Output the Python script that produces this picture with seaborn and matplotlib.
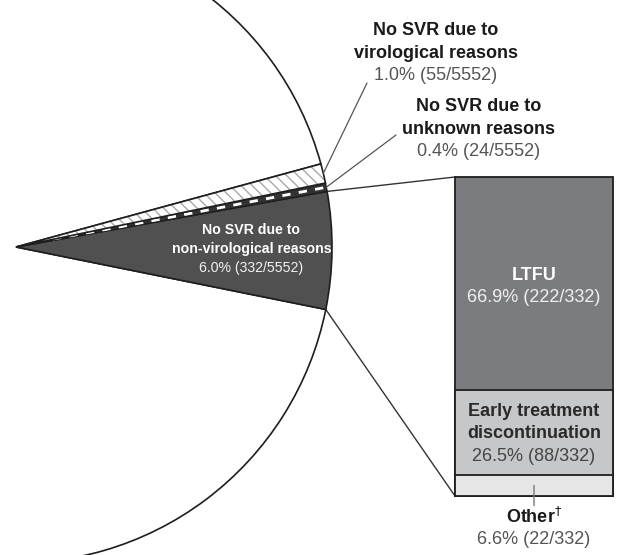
import numpy as np
import matplotlib
matplotlib.use("Agg")
import matplotlib.pyplot as plt
import seaborn as sns
from matplotlib.patches import Wedge, ConnectionPatch

sns.set_theme(style="white")
plt.rcParams["font.family"] = ["Liberation Sans", "DejaVu Sans"]

# pie: all patients (n=5552), order counter-clockwise from the bottom of the dark slice
pie_labels = ["No SVR due to\nnon-virological reasons", "No SVR due to\nunknown reasons",
              "No SVR due to\nvirological reasons", "SVR"]
pie_counts = [332, 24, 55, 5141]

# bar: breakdown of the non-virological slice (n=332), top to bottom
bar_labels = ["LTFU", "Early treatment\ndiscontinuation", "Other$^{\\dagger}$"]
bar_counts = [222, 88, 22]
bar_colors = ["#7b7c80", "#c6c7c9", "#e6e6e6"]

pie_total = sum(pie_counts)
bar_total = sum(bar_counts)
pie_pct = ["%.1f%% (%d/%d)" % (100 * c / pie_total, c, pie_total) for c in pie_counts]
bar_pct = ["%.1f%% (%d/%d)" % (100 * c / bar_total, c, bar_total) for c in bar_counts]

EDGE = "#1e1e1e"


def stacked_text(ax, xy, title, pct, tcol, pcol, center_off=0.0, size=13, sp=16.2):
    lines = title.split("\n") + [pct]
    n = len(lines)
    for i, s in enumerate(lines):
        off = center_off - (i - (n - 1) / 2) * sp
        bold = i < n - 1
        ax.annotate(s, xy=xy, xycoords="data", xytext=(0, off), textcoords="offset points",
                    ha="center", va="center", fontsize=size,
                    fontweight="bold" if bold else "normal",
                    color=tcol if bold else pcol, annotation_clip=False, zorder=6)


fig = plt.figure(figsize=(6.19, 5.55), dpi=100)
ax = fig.add_axes([0, 0, 1, 1])
ax.set_xlim(0, 619)
ax.set_ylim(0, 555)
ax.axis("off")

cx, cy, R = 16, 308, 316
start = -11.4
edges = start + 360 * np.concatenate([[0], np.cumsum(pie_counts) / pie_total])
mids = (edges[:-1] + edges[1:]) / 2


def polar(r, ang):
    a = np.deg2rad(ang)
    return cx + r * np.cos(a), cy + r * np.sin(a)


# SVR (big white slice, mostly off the canvas)
ax.add_patch(Wedge((cx, cy), R, edges[3], edges[4], facecolor="white", edgecolor=EDGE, lw=1.2, zorder=1))
# non-virological
ax.add_patch(Wedge((cx, cy), R, edges[0], edges[1], facecolor="#505050", edgecolor=EDGE, lw=1.2, zorder=2))
# unknown: dark strip with white dashes
w_unk = Wedge((cx, cy), R, edges[1], edges[2], facecolor="#333333", edgecolor=EDGE, lw=1.0, zorder=2)
ax.add_patch(w_unk)
px, py = zip(polar(0.12 * R, mids[1]), polar(R, mids[1]))
dash, = ax.plot(px, py, color="white", lw=2.0, dashes=(3.0, 3.0), zorder=3)
dash.set_clip_path(w_unk)
# virological: hatched
ax.add_patch(Wedge((cx, cy), R, edges[2], edges[3], facecolor="white", edgecolor="#a8a8a8",
                   lw=0, hatch="\\\\\\", zorder=2))
ax.add_patch(Wedge((cx, cy), R, edges[2], edges[3], fill=False, edgecolor=EDGE, lw=1.2, zorder=4))

# labels on the pie
lx, ly = polar(0.745 * R, mids[0])
stacked_text(ax, (lx, ly + 0.5), pie_labels[0], pie_pct[0], "white", "#f2f2f2", size=10.2, sp=13.7)

vir_end = (367, 472)
unk_end = (396, 420)
for k, end in [(2, vir_end), (1, unk_end)]:
    sx, sy = polar(R, mids[k])
    ax.plot([sx, end[0]], [sy, end[1]], color="#555555", lw=0.9, zorder=5)
stacked_text(ax, (436, 502), pie_labels[2], pie_pct[2], "#1a1a1a", "#555555")
stacked_text(ax, (479, 426), pie_labels[1], pie_pct[1], "#1a1a1a", "#555555")

# bar of the non-virological slice
bax = fig.add_axes([455 / 619, (555 - 496) / 555, (613 - 455) / 619, (496 - 177) / 555])
tops = np.cumsum(bar_counts[::-1])[::-1]
for top, col in zip(tops, bar_colors):
    sns.barplot(x=["nv"], y=[top], color=col, width=1, saturation=1, errorbar=None,
                edgecolor=EDGE, linewidth=1.3, ax=bax)
for p in bax.patches:
    p.set_clip_on(False)
bax.set_xlim(-0.5, 0.5)
bax.set_ylim(0, bar_total)
bax.axis("off")

bottoms = tops - np.array(bar_counts)
mid_bar = bottoms + np.array(bar_counts) / 2
stacked_text(bax, (0, mid_bar[0]), bar_labels[0], bar_pct[0], "white", "#f0f0f0", center_off=-2)
stacked_text(bax, (0, mid_bar[1]), bar_labels[1], bar_pct[1], "#2a2a2a", "#444444", center_off=-1)

# "Other" is labelled below the bar
bax.annotate("", xy=(0, mid_bar[2]), xytext=(0, -14.5), textcoords="offset points",
             xycoords="data", annotation_clip=False,
             arrowprops=dict(arrowstyle="-", color="#777777", lw=1.0, shrinkA=0, shrinkB=0))
stacked_text(bax, (0, 0), bar_labels[2], bar_pct[2], "#1a1a1a", "#555555", center_off=-23.5)

# connectors from the dark slice to the bar
for ang, yb in [(edges[1], bar_total), (edges[0], 0)]:
    con = ConnectionPatch(xyA=polar(R, ang), coordsA=ax.transData, xyB=(-0.5, yb),
                          coordsB=bax.transData, color="#333333", lw=1.0, zorder=0)
    fig.add_artist(con)

fig.savefig("out.png", dpi=100)
